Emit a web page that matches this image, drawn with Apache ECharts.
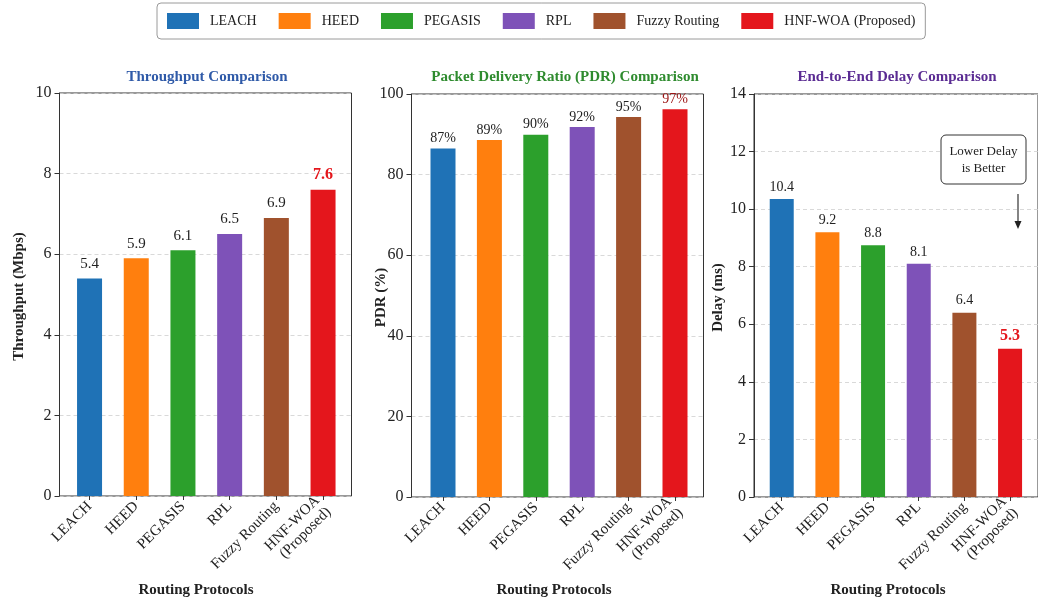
<!DOCTYPE html>
<html><head><meta charset="utf-8">
<script src="https://cdn.jsdelivr.net/npm/echarts@6/dist/echarts.min.js"></script>
<style>html,body{margin:0;padding:0;background:#fff}#c{width:1038px;height:603px}</style>
</head><body><div id="c"></div>
<script>
// ---- data ----
const categories = ['LEACH', 'HEED', 'PEGASIS', 'RPL', 'Fuzzy Routing', 'HNF-WOA (Proposed)'];
const axisCategories = ['LEACH', 'HEED', 'PEGASIS', 'RPL', 'Fuzzy Routing', 'HNF-WOA\n(Proposed)'];
const barColors = ['#1f72b6', '#ff7f0e', '#2ca02c', '#7e52b8', '#a0522d', '#e4161c'];

const throughput = [5.4, 5.9, 6.1, 6.5, 6.9, 7.6];
const throughputLabels = ['5.4', '5.9', '6.1', '6.5', '6.9', '7.6'];
const pdr = [86.5, 88.6, 89.9, 91.8, 94.3, 96.2];
const pdrLabels = ['87%', '89%', '90%', '92%', '95%', '97%'];
const delay = [10.35, 9.2, 8.75, 8.1, 6.4, 5.15];
const delayLabels = ['10.4', '9.2', '8.8', '8.1', '6.4', '5.3'];

const yMax = [10, 100, 14];
const yInterval = [2, 20, 2];
const panelTitles = ['Throughput Comparison', 'Packet Delivery Ratio (PDR) Comparison', 'End-to-End Delay Comparison'];
const yNames = ['Throughput (Mbps)', 'PDR (%)', 'Delay (ms)'];
const xName = 'Routing Protocols';
const annotationText = 'Lower Delay\nis Better';

// ---- layout ----
const FONT = '"Liberation Serif", "DejaVu Serif", serif';
const titleColors = ['#2f5aa8', '#2e8b2e', '#5b2c93'];
const frames = [
  {left: 59.5, top: 93, width: 292, height: 403},
  {left: 411.5, top: 94, width: 292, height: 403},
  {left: 754, top: 94, width: 292, height: 403}
];
const barGrids = [
  {left: 66.2, width: 280.2},
  {left: 419.8, width: 278.4},
  {left: 758.9, width: 274}
];
const titleX = [202, 560, 892];
const xNameX = [196, 554, 888];
const yNameX = [19, 381, 718];
const labelSize = [15, 14, 14];
const labelDist = [7, 3, 5];
const panelValues = [throughput, pdr, delay];
const panelLabels = [throughputLabels, pdrLabels, delayLabels];
const hnfLabelStyle = [
  {color: '#e4161c', fontWeight: 'bold', fontSize: 16},
  {color: '#9c1414', fontWeight: 'normal', fontSize: 14},
  {color: '#e4161c', fontWeight: 'bold', fontSize: 16}
];

const grid = [], xAxis = [], yAxis = [], series = [], title = [], graphic = [];
frames.forEach((f, p) => {
  grid.push({left: f.left, top: f.top, width: f.width, height: f.height, show: true,
    borderColor: '#333', borderWidth: 1, backgroundColor: 'transparent'});
  xAxis.push({gridIndex: p, type: 'value', min: 0, max: 1, show: false});
  yAxis.push({gridIndex: p, type: 'value', min: 0, max: yMax[p], interval: yInterval[p],
    axisLine: {show: true, lineStyle: {color: '#333'}},
    axisTick: {show: true, length: 5, lineStyle: {color: '#333'}},
    axisLabel: {fontFamily: FONT, fontSize: 16, color: '#222', margin: 8},
    splitLine: {show: true, lineStyle: {type: [4, 3], color: '#cfcfcf', width: 0.8}}
  });
});
barGrids.forEach((b, p) => {
  const f = frames[p];
  grid.push({left: b.left, top: f.top, width: b.width, height: f.height, show: false});
  xAxis.push({gridIndex: 3 + p, type: 'category', data: axisCategories,
    axisLine: {show: false},
    axisTick: {show: true, alignWithLabel: true, length: 4, lineStyle: {color: '#333'}},
    axisLabel: {rotate: 45, fontFamily: FONT, fontSize: 15, color: '#222', margin: 8, interval: 0, lineHeight: 16}
  });
  yAxis.push({gridIndex: 3 + p, type: 'value', min: 0, max: yMax[p], interval: yInterval[p], show: false});
  categories.forEach((c, ci) => {
    const data = panelValues[p].map((v, k) => k === ci ? v : '-');
    const isLast = ci === categories.length - 1;
    series.push({
      name: c, type: 'bar', xAxisIndex: 3 + p, yAxisIndex: 3 + p, stack: 'panel' + p,
      barWidth: p === 2 ? 24 : 25, data: data,
      itemStyle: {color: barColors[ci]},
      label: Object.assign({show: true, position: 'top', distance: labelDist[p], fontFamily: FONT,
        fontSize: labelSize[p], color: '#222',
        formatter: (prm) => panelLabels[p][prm.dataIndex]}, isLast ? hnfLabelStyle[p] : {}),
      emphasis: {disabled: true}
    });
  });
  title.push({text: panelTitles[p], left: titleX[p], top: 65, textAlign: 'center',
    textStyle: {fontFamily: FONT, fontSize: 15, fontWeight: 'bold', color: titleColors[p]}});
  graphic.push({type: 'text', x: xNameX[p], y: 590,
    style: {text: xName, font: 'bold 15px ' + FONT, fill: '#222', align: 'center', verticalAlign: 'middle'}});
  graphic.push({type: 'text', x: yNameX[p], y: (f.top + f.top + f.height) / 2 + 2, rotation: Math.PI / 2,
    style: {text: yNames[p], font: 'bold 15px ' + FONT, fill: '#222', align: 'center', verticalAlign: 'middle'}});
});
// annotation box with arrow in delay panel
graphic.push({type: 'rect', shape: {x: 941, y: 135, width: 85, height: 49, r: 5},
  style: {fill: '#fff', stroke: '#333', lineWidth: 1}, z: 10});
graphic.push({type: 'text', x: 983.5, y: 160, z: 11,
  style: {text: annotationText, font: '13px ' + FONT, fill: '#222', align: 'center', verticalAlign: 'middle', lineHeight: 17}});
graphic.push({type: 'line', shape: {x1: 1018, y1: 194, x2: 1018, y2: 222}, style: {stroke: '#333', lineWidth: 1.2}, z: 10});
graphic.push({type: 'polygon', shape: {points: [[1014.5, 221], [1021.5, 221], [1018, 229]]}, style: {fill: '#222'}, z: 10});

const chart = echarts.init(document.getElementById('c'), null, {renderer: 'canvas'});
chart.setOption({
  animation: false,
  backgroundColor: '#fff',
  title: title,
  legend: {
    data: categories, top: 3, left: 157, icon: 'rect',
    itemWidth: 32, itemHeight: 16, itemGap: 22,
    padding: [10, 10, 10, 10],
    borderColor: '#9a9a9a', borderWidth: 1, borderRadius: 4,
    textStyle: {fontFamily: FONT, fontSize: 14, color: '#222', padding: [0, 0, 0, 6]},
    selectedMode: false
  },
  grid: grid, xAxis: xAxis, yAxis: yAxis, series: series, graphic: graphic
});
</script></body></html>
